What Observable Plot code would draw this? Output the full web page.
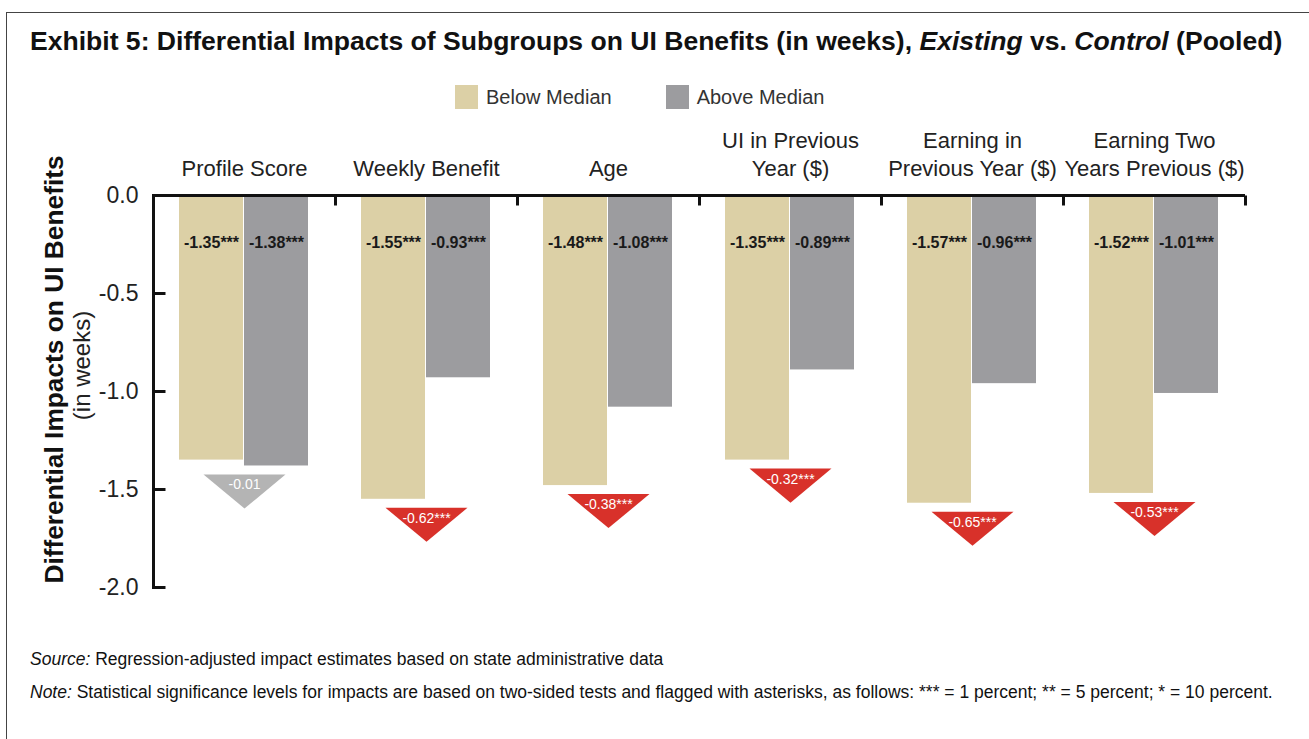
<!DOCTYPE html>
<html><head><meta charset="utf-8">
<script src="https://cdn.jsdelivr.net/npm/d3@7"></script>
<script src="https://cdn.jsdelivr.net/npm/@observablehq/plot@0.6"></script>
<style>
html,body{margin:0;padding:0;background:#fff;overflow:hidden;width:1309px;height:739px}
body{position:relative;font-family:"Liberation Sans",Arial,sans-serif;color:#111}
#frame{position:absolute;left:6px;top:12px;width:1400px;height:800px;border-left:1.5px solid #444;border-top:1.5px solid #444}
#title{position:absolute;left:30px;top:26px;font-weight:bold;font-size:26.55px;white-space:nowrap;color:#111}
#legend{position:absolute;left:455px;top:85px;display:flex;align-items:center;font-size:20px;color:#333}
#legend .item{display:flex;align-items:center;margin-right:54px}
.sw{width:23px;height:24px;display:inline-block;margin-right:8px}
#chart{position:absolute;left:0;top:120px}
.note{position:absolute;left:30px;font-family:"Liberation Sans",Arial,sans-serif;font-size:17.5px;white-space:nowrap;color:#111}
</style>
</head><body>
<div id="frame"></div>
<div id="title">Exhibit 5: Differential Impacts of Subgroups on UI Benefits (in weeks), <i>Existing</i> vs. <i>Control</i> (Pooled)</div>
<div id="legend"></div>
<div id="chart"></div>
<div class="note" style="top:649px"><i>Source:</i> Regression-adjusted impact estimates based on state administrative data</div>
<div class="note" style="top:682px"><i>Note:</i> Statistical significance levels for impacts are based on two-sided tests and flagged with asterisks, as follows: *** = 1 percent; ** = 5 percent; * = 10 percent.</div>
<script>
// ---- data ----
const categories = ["Profile Score", "Weekly Benefit", "Age", "UI in Previous\nYear ($)", "Earning in\nPrevious Year ($)", "Earning Two\nYears Previous ($)"];
const groups = ["Below Median", "Above Median"];
const belowMedian = [-1.35, -1.55, -1.48, -1.35, -1.57, -1.52];
const aboveMedian = [-1.38, -0.93, -1.08, -0.89, -0.96, -1.01];
const belowStars = ["***", "***", "***", "***", "***", "***"];
const aboveStars = ["***", "***", "***", "***", "***", "***"];
const difference = [-0.01, -0.62, -0.38, -0.32, -0.65, -0.53];
const differenceStars = ["", "***", "***", "***", "***", "***"];
const yTicks = [0, -0.5, -1.0, -1.5, -2.0];

// ---- styles ----
const tan = "#DCD0A6", gray = "#9C9C9F", red = "#D8312A", nsGray = "#B4B4B4", ink = "#111";

// legend
const legend = document.getElementById("legend");
[[groups[0], tan], [groups[1], gray]].forEach(([g, c]) => {
  const it = document.createElement("div"); it.className = "item";
  it.innerHTML = `<span class="sw" style="background:${c}"></span><span>${g}</span>`;
  legend.appendChild(it);
});

// derived tables
const bars = categories.flatMap((c, i) => [
  {cat: c, group: groups[0], value: belowMedian[i], label: belowMedian[i].toFixed(2) + belowStars[i]},
  {cat: c, group: groups[1], value: aboveMedian[i], label: aboveMedian[i].toFixed(2) + aboveStars[i]}
]);
const diffs = categories.map((c, i) => ({
  cat: c,
  anchor: Math.min(belowMedian[i], aboveMedian[i]),
  label: difference[i].toFixed(2) + differenceStars[i],
  significant: differenceStars[i] !== ""
}));
const firstCat = categories[0];
const leftTicks = yTicks.slice(1).map(v => ({cat: firstCat, v}));

// custom symbols
const downTriangle = {draw(ctx, size) {
  const r = Math.sqrt(size / Math.PI); const gap = 8.5, h = r * 0.83;
  ctx.moveTo(-r, gap); ctx.lineTo(r, gap); ctx.lineTo(0, gap + h); ctx.closePath();
}};
const inwardTick = {draw(ctx) { ctx.moveTo(0, 0); ctx.lineTo(12, 0); }};
const downTick = {draw(ctx) { ctx.moveTo(0, 0); ctx.lineTo(0, 10); }};

const chart = Plot.plot({
  width: 1309, height: 480,
  marginLeft: 153, marginRight: 64, marginTop: 75, marginBottom: 13,
  style: {fontSize: "23px", fontFamily: "'Liberation Sans', Arial, sans-serif", color: "#222", background: "transparent", overflow: "visible"},
  fx: {domain: categories, padding: 0, axis: null},
  x: {domain: groups, paddingOuter: 0.4, paddingInner: 0.01, axis: null},
  y: {domain: [-2, 0], ticks: yTicks, tickFormat: d => d.toFixed(1), tickSize: 0, tickPadding: 15, label: null},
  color: {domain: groups, range: [tan, gray]},
  marks: [
    Plot.barY(bars, {fx: "cat", x: "group", y: "value", fill: "group"}),
    Plot.text(bars, {fx: "cat", x: "group", y: () => 0, dy: 47, text: "label", fontSize: 16, fontWeight: "bold", fill: "#1a1a1a"}),
    Plot.dot(diffs, {fx: "cat", y: "anchor", r: 41, symbol: downTriangle, fill: d => d.significant ? red : nsGray, stroke: null}),
    Plot.text(diffs, {fx: "cat", y: "anchor", dy: 19, text: "label", fill: "white", fontSize: 14}),
    Plot.text(categories, {fx: d => d, text: d => d, frameAnchor: "top", lineAnchor: "bottom", dy: -20, fontSize: 22, lineHeight: 1.27, fill: "#222"}),
    Plot.ruleY([0], {stroke: ink, strokeWidth: 3}),
    Plot.dot(categories, {fx: d => d, frameAnchor: "top-right", symbol: downTick, stroke: ink, strokeWidth: 3, fill: "none"}),
    Plot.frame({anchor: "left", facetAnchor: "left", stroke: ink, strokeWidth: 3}),
    Plot.dot(leftTicks, {fx: "cat", y: "v", frameAnchor: "left", symbol: inwardTick, stroke: ink, strokeWidth: 3, fill: "none"}),
    Plot.text([firstCat], {fx: d => d, text: () => "Differential Impacts on UI Benefits", frameAnchor: "left", textAnchor: "middle", rotate: -90, dx: -99, dy: -22, fontSize: 26.3, fontWeight: "bold", fill: "#111"}),
    Plot.text([firstCat], {fx: d => d, text: () => "(in weeks)", frameAnchor: "left", textAnchor: "middle", rotate: -90, dx: -71, dy: -26, fontSize: 24, fill: "#222"})
  ]
});
document.getElementById("chart").appendChild(chart);
</script>
</body></html>
